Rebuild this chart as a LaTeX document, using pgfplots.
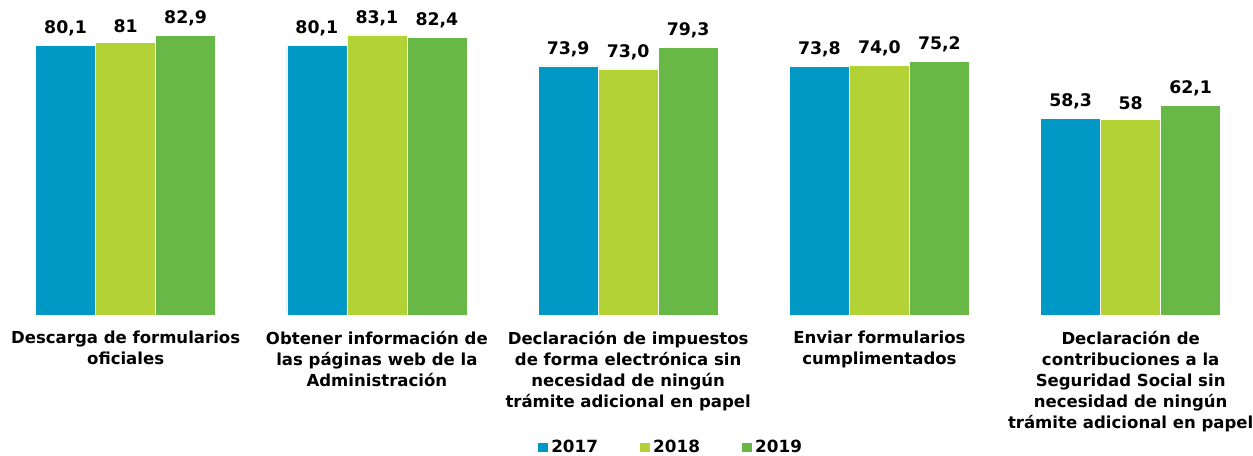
\documentclass[border=0pt]{standalone}
\usepackage{fontspec}
\setmainfont{DejaVu Sans}
\usepackage{pgfplots}
\pgfplotsset{compat=1.18}
\definecolor{cA}{RGB}{0,153,198}
\definecolor{cB}{RGB}{178,210,53}
\definecolor{cC}{RGB}{103,184,71}
\begin{document}
\begin{tikzpicture}
\useasboundingbox (0,0) rectangle (939.75pt,341.25pt);
\begin{axis}[
  at={(0pt,105pt)}, anchor=south west,
  scale only axis, width=939.75pt, height=236.25pt,
  xmin=-0.5, xmax=4.487, ymin=0, ymax=93.47,
  ybar=0pt, bar width=45pt,
  axis line style={draw=none},
  ytick=\empty,
  xtick={0,1,2,3,4},
  xtick style={draw=none},
  xticklabels={
    {Descarga de formularios\\oficiales},
    {Obtener información de\\las páginas web de la\\Administración},
    {Declaración de impuestos\\de forma electrónica sin\\necesidad de ningún\\trámite adicional en papel},
    {Enviar formularios\\cumplimentados},
    {Declaración de\\contribuciones a la\\Seguridad Social sin\\necesidad de ningún\\trámite adicional en papel}},
  xticklabel style={align=center, anchor=north, font={\fontsize{12.4}{15.75}\selectfont\bfseries}, yshift=-4.5pt},
  clip=false,
  point meta=explicit symbolic,
  nodes near coords,
  every node near coord/.append style={font={\fontsize{13}{15}\selectfont\bfseries}, anchor=south, yshift=3.5pt},
  legend columns=3,
  legend style={at={(axis description cs:0.5355,0)}, yshift=-99.25pt, anchor=center, draw=none, fill=none,
    font={\fontsize{12.6}{15}\selectfont\bfseries},
    /tikz/every even column/.append style={column sep=29pt},
    inner sep=0pt},
  legend image code/.code={\fill[#1] (0pt,-4pt) rectangle (8pt,4pt);},
]
\addplot[fill=cA, draw=white, line width=0.4pt] coordinates {(0,80.1) [80,1] (1,80.1) [80,1] (2,73.9) [73,9] (3,73.8) [73,8] (4,58.3) [58,3]};
\addplot[fill=cB, draw=white, line width=0.4pt] coordinates {(0,81) [81] (1,83.1) [83,1] (2,73.0) [73,0] (3,74.0) [74,0] (4,58) [58]};
\addplot[fill=cC, draw=white, line width=0.4pt] coordinates {(0,82.9) [82,9] (1,82.4) [82,4] (2,79.3) [79,3] (3,75.2) [75,2] (4,62.1) [62,1]};
\legend{2017,2018,2019}
\end{axis}
\end{tikzpicture}
\end{document}
